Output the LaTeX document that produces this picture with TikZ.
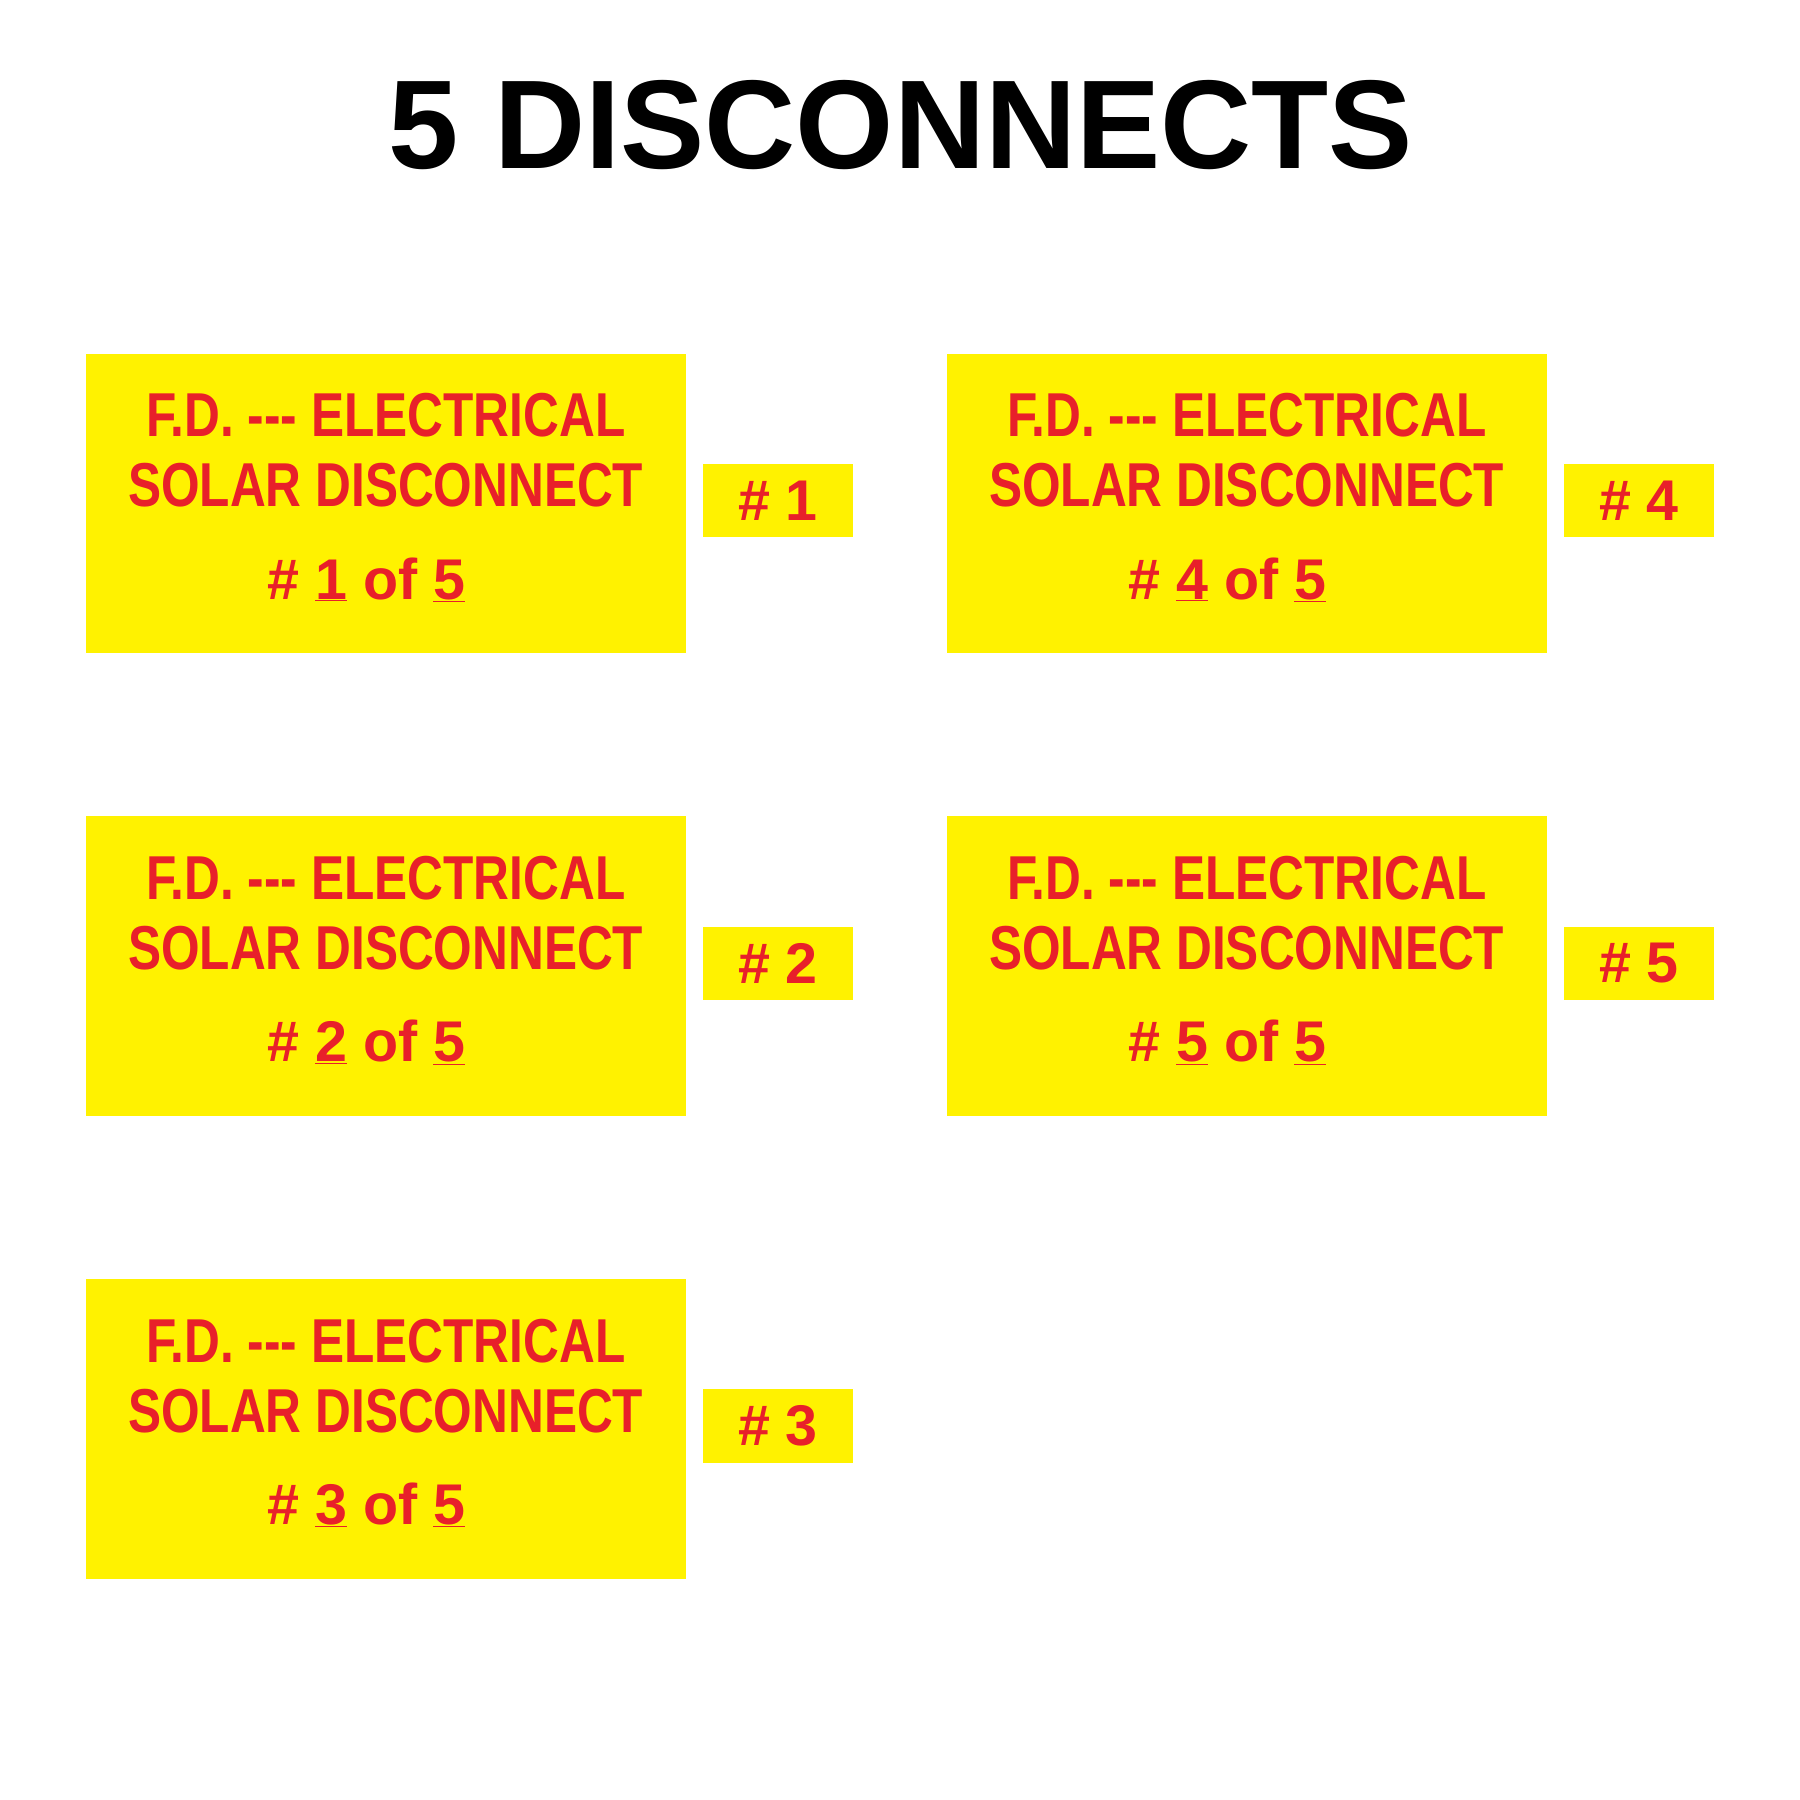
\documentclass[tikz,border=0pt]{standalone}
\usepackage{fontspec}
\setmainfont{Liberation Sans}
\newfontfamily\narrowbold[FakeStretch=0.80]{Liberation Sans Bold}
\definecolor{signyellow}{HTML}{FFF200}
\definecolor{signred}{HTML}{E8202A}
\tikzset{
  bigbox/.style={fill=signyellow,draw=none,minimum width=522pt,minimum height=261pt,anchor=north west,inner sep=0pt},
  smallbox/.style={fill=signyellow,draw=none,minimum width=131pt,minimum height=64pt,anchor=north west,inner sep=0pt},
  narrowtxt/.style={text=signred,font=\narrowbold\fontsize{54}{54}\selectfont,inner sep=0pt},
  numtxt/.style={text=signred,font=\bfseries\fontsize{50}{50}\selectfont,inner sep=0pt},
}
\newcommand{\mysign}[4]{%
  \node[bigbox] (b#1) at (#2,#3) {};
  \node[narrowtxt] (l1#1) at (#2+261,#3+54) {F.D. --- ELECTRICAL};
  \node[narrowtxt] (l2#1) at (#2+261,#3+115) {SOLAR DISCONNECT};
  \node[numtxt] (l3#1) at (#2+244,#3+197) {\# \underline{#4} of \underline{5}};
  \node[smallbox] (s#1) at (#2+537,#3+96) {};
  \node[numtxt] (st#1) at (s#1.center) {\# #4};
}
\begin{document}
\begin{tikzpicture}[x=1pt,y=-1pt]
\useasboundingbox (0,0) rectangle (1568,1568);
\node[font=\bfseries\fontsize{110}{110}\selectfont,inner sep=0pt] (title) at (785,109) {5 DISCONNECTS};
\mysign{1}{75}{308}{1}
\mysign{2}{75}{711}{2}
\mysign{3}{75}{1114}{3}
\mysign{4}{825}{308}{4}
\mysign{5}{825}{711}{5}
\end{tikzpicture}
\end{document}
